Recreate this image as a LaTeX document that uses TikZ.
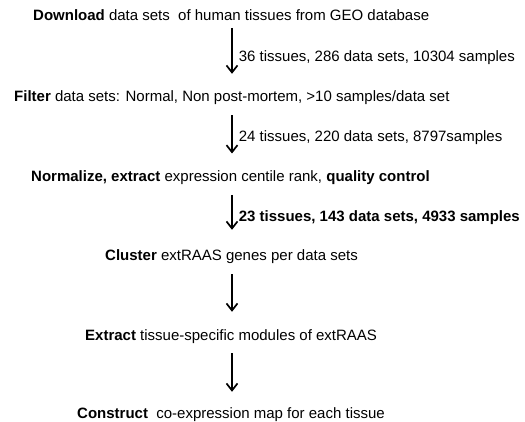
\documentclass[tikz,border=0pt]{standalone}
\usepackage{fontspec}
\setmainfont{Liberation Sans}
\usetikzlibrary{arrows.meta}

\begin{document}
\begin{tikzpicture}[
    x=1pt, y=-1pt,
    stage/.style={
        anchor=base west,
        inner sep=0pt,
        text height=10pt,
        text depth=3pt,
        font=\fontsize{15}{18}\selectfont
    },
    count/.style={
        anchor=west,
        inner sep=0pt,
        xshift=6pt,
        text height=10pt,
        text depth=3pt,
        font=\fontsize{15}{18}\selectfont
    },
    arrow/.style={
        -{Straight Barb[length=7pt, width=11pt]},
        line width=1.7pt,
        shorten <=10pt,
        shorten >=18pt
    }
]

\useasboundingbox (0,0) rectangle (525,422);

\coordinate (spine) at (232,0);

\node[stage] (download)  at (33,20.7)  {\textbf{Download} data sets~ of human tissues from GEO database};
\node[stage] (filter)    at (14,102)   {\textbf{Filter} data sets: Normal, Non post-mortem, >10 samples/data set};
\node[stage] (normalize) at (31,181.7) {\textbf{Normalize, extract} expression centile rank, \textbf{quality control}};
\node[stage] (cluster)   at (105,261)  {\textbf{Cluster} extRAAS genes per data sets};
\node[stage] (extract)   at (85,340)   {\textbf{Extract} tissue-specific modules of extRAAS};
\node[stage] (construct) at (77,418)   {\textbf{Construct}~ co-expression map for each tissue};

\draw[arrow, shorten <=4pt] (download.south -| spine) -- node[count] {36 tissues, 286 data sets, 10304 samples} (filter.north -| spine);
\draw[arrow] (filter.south -| spine) -- node[count] {24 tissues, 220 data sets, 8797samples} (normalize.north -| spine);
\draw[arrow, shorten >=21pt] (normalize.south -| spine) -- node[count, font=\fontsize{15}{18}\selectfont\bfseries] {23 tissues, 143 data sets, 4933 samples} (cluster.north -| spine);
\draw[arrow] (cluster.south -| spine) -- (extract.north -| spine);
\draw[arrow, shorten >=16pt] (extract.south -| spine) -- (construct.north -| spine);

\end{tikzpicture}
\end{document}
